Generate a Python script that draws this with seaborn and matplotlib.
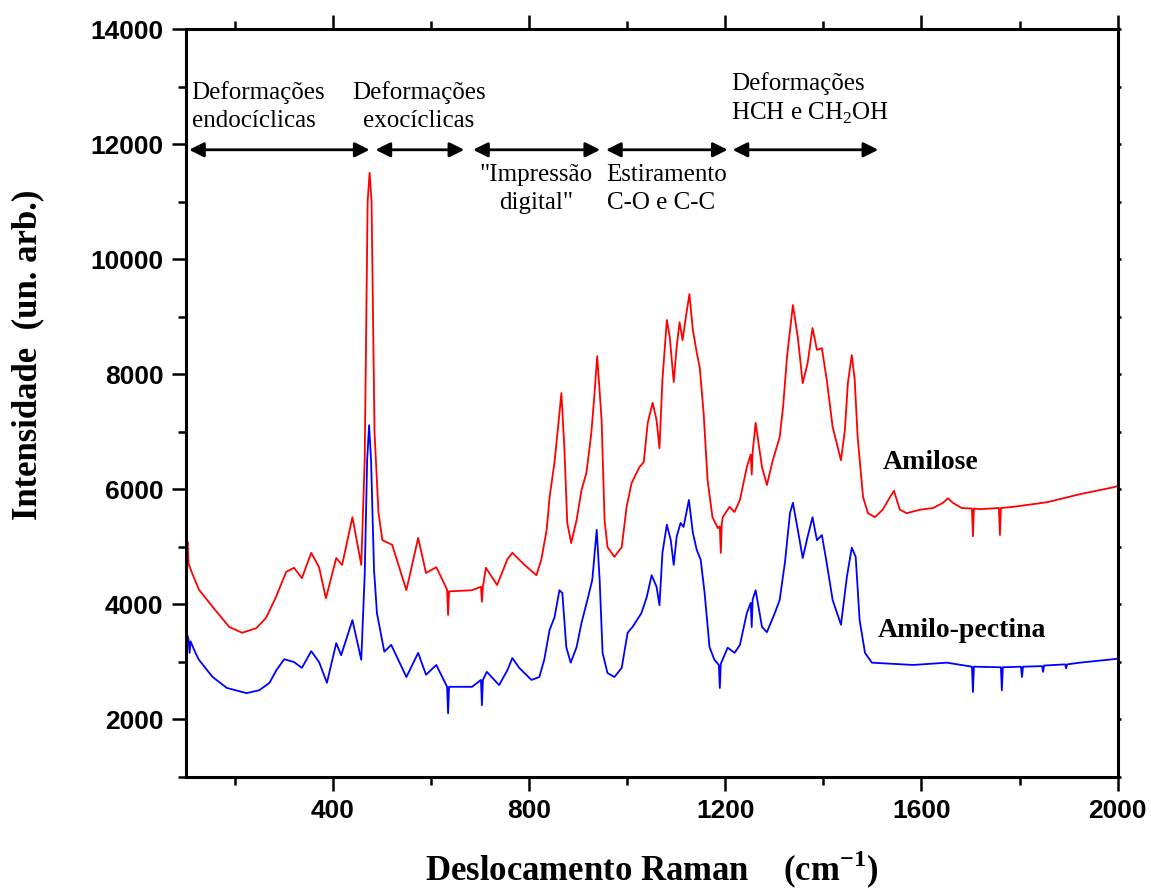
import numpy as np
import pandas as pd
import matplotlib
matplotlib.use("Agg")
import matplotlib.pyplot as plt
import seaborn as sns
from matplotlib.ticker import MultipleLocator

# Raman shift (cm^-1) and intensity (arb. units) for each starch fraction
amilose_x = [102, 104, 106, 113, 127, 155, 189, 215, 244, 264, 284, 305, 321, 337, 356, 372,
             386, 407, 419, 440, 458, 465, 471, 475, 479, 485, 493, 501, 521, 550, 574, 590,
             611, 633, 635, 637, 684, 702, 704, 706, 712, 735, 756, 766, 791, 815, 825, 836,
             842, 852, 858, 866, 872, 878, 886, 897, 907, 917, 927, 933, 939, 948, 954, 960,
             974, 989, 999, 1009, 1025, 1034, 1042, 1052, 1060, 1066, 1072, 1081, 1087, 1095,
             1101, 1107, 1113, 1121, 1127, 1134, 1142, 1148, 1156, 1164, 1174, 1185, 1189,
             1191, 1193, 1195, 1209, 1219, 1230, 1244, 1252, 1254, 1256, 1262, 1275, 1285,
             1297, 1311, 1318, 1326, 1338, 1348, 1358, 1368, 1378, 1387, 1397, 1407, 1419,
             1436, 1444, 1450, 1458, 1464, 1470, 1481, 1491, 1505, 1521, 1536, 1544, 1556,
             1570, 1597, 1624, 1644, 1654, 1664, 1682, 1703, 1705, 1707, 1720, 1758, 1760,
             1762, 1787, 1856, 1923, 1991, 2000]
amilose_y = [4950, 5080, 4700, 4540, 4250, 3950, 3600, 3500, 3580, 3760, 4120, 4560, 4630, 4450,
             4890, 4640, 4100, 4800, 4680, 5510, 4680, 6500, 11000, 11500, 11000, 7000, 5600,
             5110, 5030, 4240, 5150, 4540, 4640, 4250, 3810, 4220, 4240, 4300, 4040, 4300, 4630,
             4330, 4780, 4890, 4680, 4500, 4770, 5290, 5860, 6470, 6970, 7670, 6730, 5410, 5060,
             5460, 5980, 6280, 6970, 7600, 8310, 7200, 5460, 4990, 4820, 4990, 5690, 6100, 6380,
             6470, 7150, 7500, 7200, 6710, 7900, 8940, 8640, 7860, 8470, 8900, 8590, 9060, 9390,
             8770, 8370, 8120, 7320, 6160, 5510, 5320, 5350, 4890, 5400, 5510, 5690, 5600, 5810,
             6380, 6600, 6250, 6650, 7150, 6380, 6070, 6500, 6900, 7430, 8300, 9200, 8640, 7840,
             8190, 8800, 8420, 8450, 7900, 7080, 6500, 7030, 7840, 8330, 7900, 6900, 5860, 5580,
             5510, 5640, 5860, 5970, 5640, 5580, 5640, 5670, 5760, 5840, 5760, 5670, 5660, 5180,
             5660, 5650, 5670, 5200, 5670, 5690, 5770, 5910, 6030, 6050]

amilopectina_x = [102, 106, 108, 110, 120, 127, 155, 184, 224, 250, 271, 285, 301, 321, 337, 356,
                  372, 388, 407, 417, 440, 458, 465, 470, 474, 478, 484, 490, 505, 519, 550, 574,
                  590, 611, 633, 635, 637, 684, 702, 704, 706, 714, 739, 756, 766, 780, 805, 821,
                  831, 842, 852, 862, 868, 876, 885, 897, 907, 919, 929, 938, 944, 950, 960, 974,
                  989, 1001, 1011, 1029, 1040, 1050, 1060, 1066, 1072, 1081, 1089, 1095, 1101,
                  1109, 1115, 1126, 1134, 1142, 1150, 1158, 1168, 1178, 1187, 1189, 1191, 1205,
                  1219, 1230, 1244, 1252, 1254, 1256, 1262, 1275, 1285, 1301, 1311, 1322, 1332,
                  1338, 1348, 1358, 1368, 1378, 1387, 1397, 1407, 1419, 1436, 1448, 1458, 1466,
                  1474, 1485, 1499, 1583, 1652, 1703, 1705, 1707, 1762, 1764, 1766, 1803, 1805,
                  1807, 1846, 1848, 1850, 1893, 1895, 1897, 1923, 1991, 2000]
amilopectina_y = [3500, 3380, 3150, 3350, 3150, 3030, 2730, 2540, 2450, 2500, 2630, 2850, 3040,
                  2990, 2890, 3180, 2990, 2630, 3320, 3110, 3720, 3030, 4500, 6500, 7110, 6500,
                  4600, 3840, 3170, 3290, 2730, 3150, 2770, 2940, 2560, 2100, 2560, 2560, 2680,
                  2240, 2680, 2820, 2590, 2850, 3060, 2890, 2680, 2730, 3030, 3550, 3770, 4240,
                  4190, 3250, 2980, 3250, 3670, 4070, 4420, 5290, 4420, 3150, 2800, 2730, 2890,
                  3500, 3600, 3840, 4120, 4500, 4300, 3980, 4890, 5380, 5110, 4680, 5170, 5410,
                  5340, 5810, 5240, 4940, 4770, 4190, 3250, 3030, 2940, 2540, 2960, 3240, 3150,
                  3290, 3840, 4020, 3600, 4080, 4240, 3600, 3510, 3840, 4070, 4740, 5580, 5760,
                  5290, 4800, 5170, 5510, 5110, 5200, 4710, 4070, 3640, 4470, 4980, 4820, 3720,
                  3150, 2980, 2940, 2980, 2910, 2470, 2910, 2900, 2500, 2900, 2910, 2730, 2910,
                  2920, 2820, 2930, 2950, 2880, 2950, 2980, 3040, 3050]

# Spectral band regions marked with double arrows
region_start = [107, 487, 686, 957, 1215]
region_end = [475, 668, 945, 1205, 1512]
arrow_level = 11900

df = pd.concat([
    pd.DataFrame({"shift": amilose_x, "intensity": amilose_y, "amostra": "Amilose"}),
    pd.DataFrame({"shift": amilopectina_x, "intensity": amilopectina_y, "amostra": "Amilo-pectina"}),
], ignore_index=True)

sns.set_style("ticks")
plt.rcParams["mathtext.fontset"] = "custom"
plt.rcParams["mathtext.rm"] = "Liberation Serif"
plt.rcParams["mathtext.bf"] = "Liberation Serif:bold"
plt.rcParams["text.color"] = "black"
plt.rcParams["axes.labelcolor"] = "black"
plt.rcParams["xtick.color"] = "black"
plt.rcParams["ytick.color"] = "black"

fig = plt.figure(figsize=(11.51, 8.91), dpi=100)
ax = fig.add_axes([0.1613, 0.1285, 0.8097, 0.8389])

sns.lineplot(data=df, x="shift", y="intensity", hue="amostra",
             palette={"Amilose": "#ff0000", "Amilo-pectina": "#0000ff"},
             estimator=None, sort=False, legend=False, linewidth=1.3, ax=ax)

ax.set_xlim(100, 2000)
ax.set_ylim(1000, 14000)
ax.xaxis.set_major_locator(MultipleLocator(400))
ax.xaxis.set_minor_locator(MultipleLocator(200))
ax.yaxis.set_major_locator(MultipleLocator(2000))
ax.yaxis.set_minor_locator(MultipleLocator(1000))

for side in ["left", "right", "top", "bottom"]:
    ax.spines[side].set_visible(True)
    ax.spines[side].set_linewidth(2.2)
    ax.spines[side].set_color("black")

ax.tick_params(axis="x", which="major", direction="out", length=10, width=1.8,
               top=True, bottom=True, pad=6)
ax.tick_params(axis="x", which="minor", direction="out", length=6, width=1.8,
               top=True, bottom=True)
ax.tick_params(axis="y", which="major", direction="out", length=10, width=1.8,
               left=True, right=False, pad=6)
ax.tick_params(axis="y", which="minor", direction="out", length=6, width=1.8,
               left=True, right=False)

# tiny ticks on the right-hand frame
ax_r = ax.twinx()
ax_r.set_ylim(ax.get_ylim())
ax_r.yaxis.set_major_locator(MultipleLocator(2000))
ax_r.yaxis.set_minor_locator(MultipleLocator(1000))
ax_r.tick_params(axis="y", which="both", direction="out", length=2, width=1.8,
                 labelright=False)
for side in ["left", "right", "top", "bottom"]:
    ax_r.spines[side].set_visible(False)

tick_fp = matplotlib.font_manager.FontProperties(family="Liberation Sans", weight="bold", size=19)
for lab in ax.get_xticklabels() + ax.get_yticklabels():
    lab.set_fontproperties(tick_fp)
    lab.set_color("black")

ax.set_xlabel(r"Deslocamento Raman    (cm$^{\mathregular{-1}}$)", family="Liberation Serif",
              weight="bold", size=25, va="center", color="black")
ax.xaxis.set_label_coords(0.5, -0.125)
ax.set_ylabel("Intensidade  (un. arb.)", family="Liberation Serif", weight="bold",
              size=25, va="center", color="black")
ax.yaxis.set_label_coords(-0.169, 0.564)

# Region arrows
for s, e in zip(region_start, region_end):
    ax.annotate("", xy=(e, arrow_level), xytext=(s, arrow_level),
                arrowprops=dict(arrowstyle="<|-|>", color="black", lw=2,
                                mutation_scale=22, shrinkA=0, shrinkB=0))

note = dict(family="Liberation Serif", size=18, color="black", linespacing=1.35)
ax.text(112, 12661, "Deformações\nendocíclicas", ha="left", va="center", **note)
ax.text(575, 12661, "Deformações\nexocíclicas", ha="center", va="center", multialignment="center", **note)
ax.text(815, 11218, "\"Impressão\ndigital\"", ha="center", va="center", multialignment="center", **note)
ax.text(958, 11218, "Estiramento\nC-O e C-C", ha="left", va="center", **note)
ax.text(1212, 12783, "Deformações\nHCH e CH$_{\\mathregular{2}}$OH", ha="left", va="center", **note)

label_font = dict(family="Liberation Serif", weight="bold", size=20, color="black")
ax.text(1522, 6453, "Amilose", ha="left", va="center", **label_font)
ax.text(1510, 3531, "Amilo-pectina", ha="left", va="center", **label_font)

fig.savefig("out.png", dpi=100)
